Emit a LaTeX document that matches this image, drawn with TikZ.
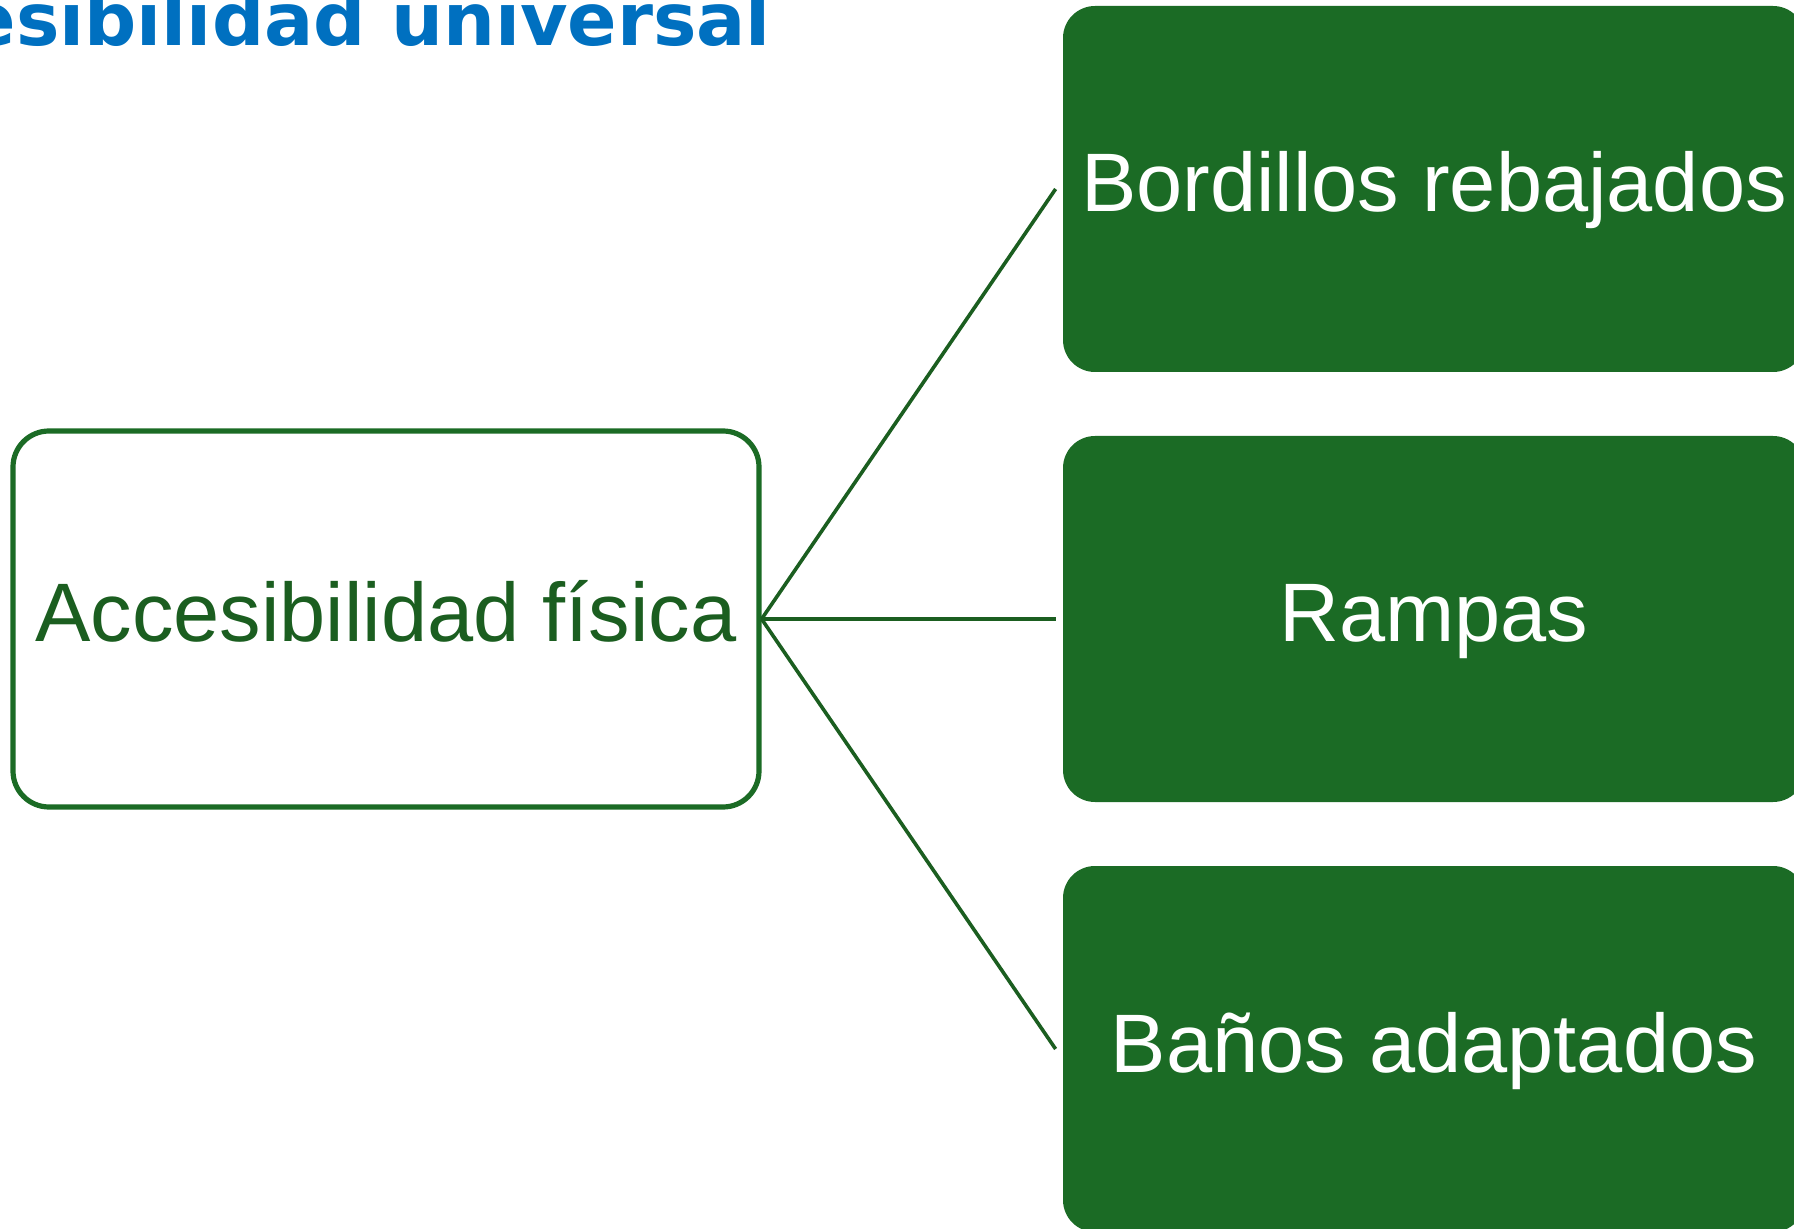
\documentclass[tikz,border=0pt]{standalone}
\usepackage{fontspec}
\setmainfont{Liberation Sans}
\newfontfamily\titlefont{DejaVu Sans}
\usepackage{tikz}
\usetikzlibrary{positioning}

\definecolor{boxgreen}{HTML}{1B6B25}
\definecolor{linegreen}{HTML}{1B5E20}
\definecolor{titleblue}{HTML}{0070C0}

\tikzset{
  parentbox/.style={draw=boxgreen, line width=2.6pt, fill=white, rounded corners=18pt,
    minimum width=373pt, minimum height=188pt, inner sep=0pt,
    text height=31pt, text depth=8pt,
    text=linegreen, font=\fontsize{41.5}{48}\selectfont},
  childbox/.style={fill=boxgreen, rounded corners=16pt,
    minimum width=371pt, minimum height=183pt, inner sep=0pt,
    text height=31pt, text depth=8pt,
    text=white, font=\fontsize{41.5}{48}\selectfont},
  branch/.style={draw=linegreen, line width=1.8pt}
}

\begin{document}
\begin{tikzpicture}[x=0.5pt, y=-0.5pt]
    \useasboundingbox (0,0) rectangle (1794,1229);
    \node[anchor=base east, text=titleblue, font=\titlefont\bfseries\fontsize{36.5}{40}\selectfont] (title) at (778,46) {esibilidad universal};
    \node[parentbox] (fisica) at (386,619) {Accesibilidad física};
    \node[childbox] (bordillos) at (1434,189) {Bordillos rebajados};
    \node[childbox] (rampas) at (1434,619) {Rampas};
    \node[childbox] (banos) at (1434,1049) {Baños adaptados};
    \draw[branch] (fisica.east) -- ([xshift=-3.5pt]bordillos.west);
    \draw[branch] (fisica.east) -- ([xshift=-3.5pt]rampas.west);
    \draw[branch] (fisica.east) -- ([xshift=-3.5pt]banos.west);
\end{tikzpicture}
\end{document}
